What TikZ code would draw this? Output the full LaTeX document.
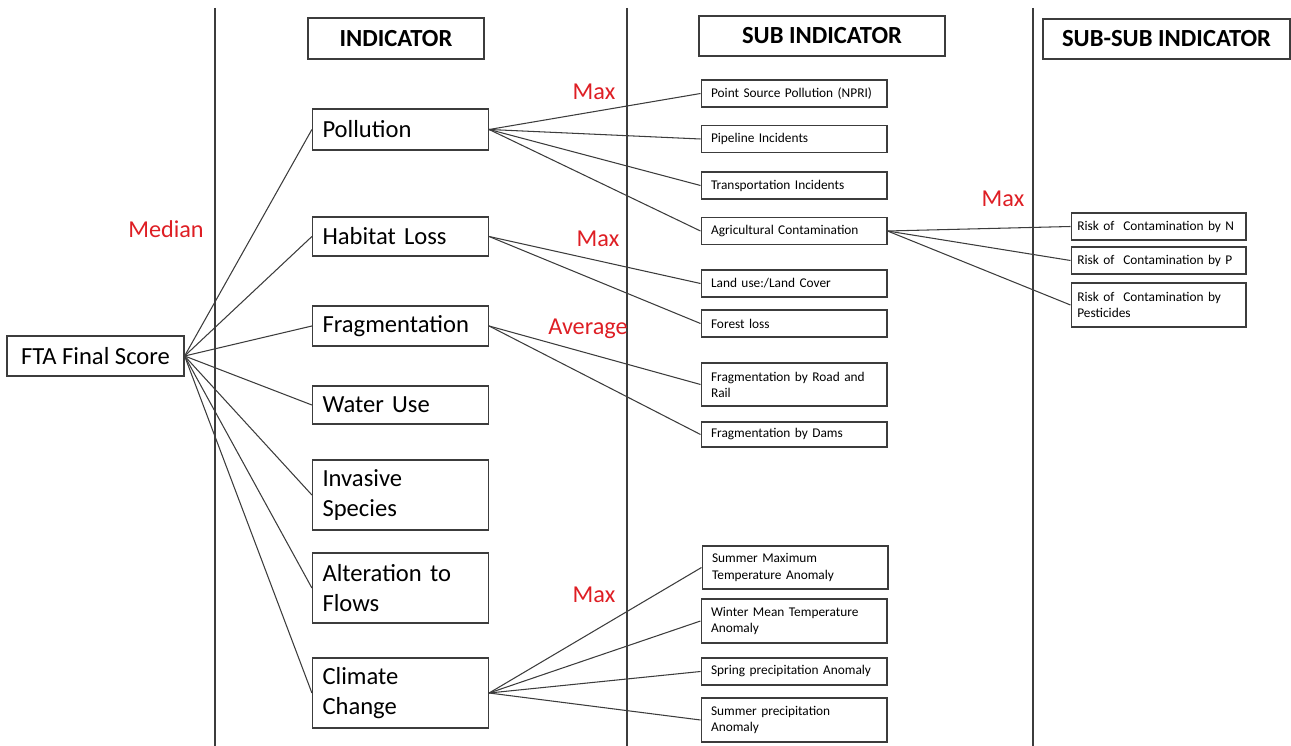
\documentclass[tikz,border=0pt]{standalone}
\usepackage{fontspec}
\setmainfont{Carlito}
\usepackage{xcolor}
\definecolor{opred}{RGB}{222,30,36}
\definecolor{edge}{RGB}{60,60,60}

\begin{document}
\begin{tikzpicture}[
    x=0.02cm, y=-0.02cm,
    head/.style={rectangle, draw=edge, line width=0.7pt, minimum height=0.8cm,
                 font=\bfseries\fontsize{14}{16}\selectfont},
    ind/.style={rectangle, draw=edge, line width=0.7pt, inner xsep=0.2cm,
                text width=3.12cm, align=left, font=\fontsize{14}{17}\selectfont},
    sub/.style={rectangle, draw=edge, line width=0.6pt, inner xsep=0.2cm,
                text width=3.32cm, align=left, minimum height=0.54cm,
                font=\fontsize{7.6}{9.2}\selectfont},
    risk/.style={sub, inner xsep=0.125cm, text width=3.25cm},
    link/.style={draw=edge, line width=0.6pt},
    op/.style={text=opred, font=\fontsize{13.8}{15}\selectfont}
]
\useasboundingbox (0,0) rectangle (1291,746);

\foreach \x in {215,627,1033}
    \draw[link] (\x,8) -- (\x,746);

\node[head, minimum width=3.52cm, minimum height=0.82cm] (hind) at (396,38.5) {INDICATOR};
\node[head, minimum width=4.92cm] (hsub) at (822,36) {SUB INDICATOR};
\node[head, minimum width=4.94cm] (hsubsub) at (1166.5,39) {SUB-SUB INDICATOR};

\node[rectangle, draw=edge, line width=0.7pt, minimum width=3.54cm, minimum height=0.8cm,
      font=\fontsize{14}{16}\selectfont] (fta) at (95.5,356) {FTA Final Score};

\node[ind, minimum height=0.82cm] (poll) at (400.5,129.5) {Pollution};
\node[ind, minimum height=0.78cm] (hab) at (400.5,236.5) {Habitat Loss};
\node[ind, minimum height=0.8cm] (frag) at (400.5,326) {Fragmentation};
\node[ind, minimum height=0.76cm] (water) at (400.5,405) {Water Use};
\node[ind, minimum height=1.4cm] (inv) at (400.5,495) {Invasive\\Species};
\node[ind, minimum height=1.4cm] (alt) at (400.5,588) {Alteration to\\Flows};
\node[ind, minimum height=1.4cm] (clim) at (400.5,693) {Climate\\Change};

\node[sub] (psp) at (794,93.5) {Point Source Pollution (NPRI)};
\node[sub] (pipe) at (794,139) {Pipeline Incidents};
\node[sub] (trans) at (794,185.5) {Transportation Incidents};
\node[sub] (agri) at (794,231) {Agricultural Contamination};
\node[sub] (land) at (794,283.5) {Land use:/Land Cover};
\node[sub] (forest) at (794,323.5) {Forest loss};
\node[sub, minimum height=0.86cm] (road) at (794,384.5) {Fragmentation by Road and\\Rail};
\node[sub, minimum height=0.5cm] (dams) at (794,434.5) {Fragmentation by Dams};
\node[sub, minimum height=0.86cm] (sumax) at (795,567.5) {Summer Maximum\\Temperature Anomaly};
\node[sub, minimum height=0.88cm] (wint) at (794,621) {Winter Mean Temperature\\Anomaly};
\node[sub] (spring) at (794,671.5) {Spring precipitation Anomaly};
\node[sub, minimum height=0.88cm] (sumpr) at (794,720) {Summer precipitation\\Anomaly};

\node[risk] (riskn) at (1158.5,226.5) {Risk of~ Contamination by N};
\node[risk] (riskp) at (1158.5,260.5) {Risk of~ Contamination by P};
\node[risk, minimum height=0.88cm] (riskpe) at (1158.5,305) {Risk of~ Contamination by\\Pesticides};

\node[op] (lmed) at (166,229) {Median};
\node[op] (lmax1) at (594,92) {Max};
\node[op] (lmax2) at (598,239) {Max};
\node[op] (lavg) at (588,329) {Average};
\node[op] (lmax3) at (594,595) {Max};
\node[op] (lmax4) at (1003,199) {Max};

\foreach \a/\b in {fta/poll, fta/hab, fta/frag, fta/water, fta/inv, fta/alt, fta/clim,
                   poll/psp, poll/pipe, poll/trans, poll/agri, hab/land, hab/forest,
                   frag/road, frag/dams, clim/sumax, clim/wint, clim/spring, clim/sumpr,
                   agri/riskn, agri/riskp, agri/riskpe}
    \draw[link] (\a.east) -- (\b.west);
\end{tikzpicture}
\end{document}
